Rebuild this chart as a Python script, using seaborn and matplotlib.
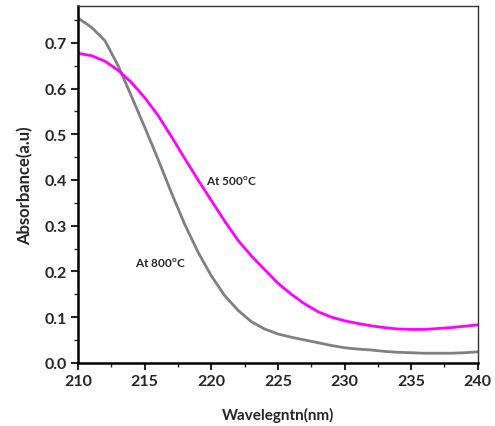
import numpy as np
import pandas as pd
import seaborn as sns
import matplotlib.pyplot as plt
from matplotlib.ticker import MultipleLocator

# wavelength grid (nm)
wavelength = list(range(210, 241))

# absorbance
abs_500 = [0.677, 0.672, 0.660, 0.640, 0.613, 0.580, 0.541, 0.495, 0.447, 0.400,
           0.355, 0.310, 0.268, 0.234, 0.204, 0.174, 0.150, 0.129, 0.112, 0.100,
           0.092, 0.086, 0.081, 0.077, 0.074, 0.073, 0.073, 0.075, 0.077, 0.080,
           0.083]
abs_800 = [0.754, 0.734, 0.705, 0.650, 0.583, 0.515, 0.445, 0.372, 0.303, 0.242,
           0.190, 0.147, 0.115, 0.090, 0.074, 0.063, 0.056, 0.050, 0.044, 0.038,
           0.033, 0.030, 0.028, 0.025, 0.023, 0.022, 0.021, 0.021, 0.021, 0.022,
           0.024]

df = pd.DataFrame({'wl': wavelength, 'a500': abs_500, 'a800': abs_800})

sns.set_style("ticks")
plt.rcParams['font.family'] = ['Lato', 'DejaVu Sans']
plt.rcParams['font.weight'] = 'bold'

fig, ax = plt.subplots(figsize=(4.95, 4.27), dpi=100)
fig.subplots_adjust(left=0.158, right=0.965, top=0.984, bottom=0.148)

sns.lineplot(data=df, x='wl', y='a800', ax=ax, color='#808080', lw=2)
sns.lineplot(data=df, x='wl', y='a500', ax=ax, color='#ff00ff', lw=2)

ax.set_xlim(210, 240)
ax.set_ylim(0, 0.781)
ax.xaxis.set_major_locator(MultipleLocator(5))
ax.xaxis.set_minor_locator(MultipleLocator(2.5))
ax.yaxis.set_major_locator(MultipleLocator(0.1))
ax.yaxis.set_minor_locator(MultipleLocator(0.05))
ax.yaxis.set_major_formatter(plt.FormatStrFormatter('%.1f'))

for s in ['left', 'bottom']:
    ax.spines[s].set_linewidth(1.8)
    ax.spines[s].set_color('black')
for s in ['top', 'right']:
    ax.spines[s].set_visible(True)
    ax.spines[s].set_linewidth(1.0)
    ax.spines[s].set_color('#333333')

ax.tick_params(which='major', direction='out', length=5, width=1.5,
               labelsize=11.5, pad=3)
ax.tick_params(which='minor', direction='out', length=3, width=1)
for lab in ax.get_xticklabels() + ax.get_yticklabels():
    lab.set_fontweight('bold')

ax.set_xlabel('Wavelegntn(nm)', fontsize=11, fontweight='bold', labelpad=14)
ax.set_ylabel('Absorbance(a.u)', fontsize=12, fontweight='bold', labelpad=8)

ax.text(219.6, 0.39, r'At 500$^{\mathregular{o}}$C', fontsize=8.5, fontweight='bold')
ax.text(214.3, 0.21, r'At 800$^{\mathregular{o}}$C', fontsize=8.5, fontweight='bold')

plt.savefig('out.png', dpi=100)
